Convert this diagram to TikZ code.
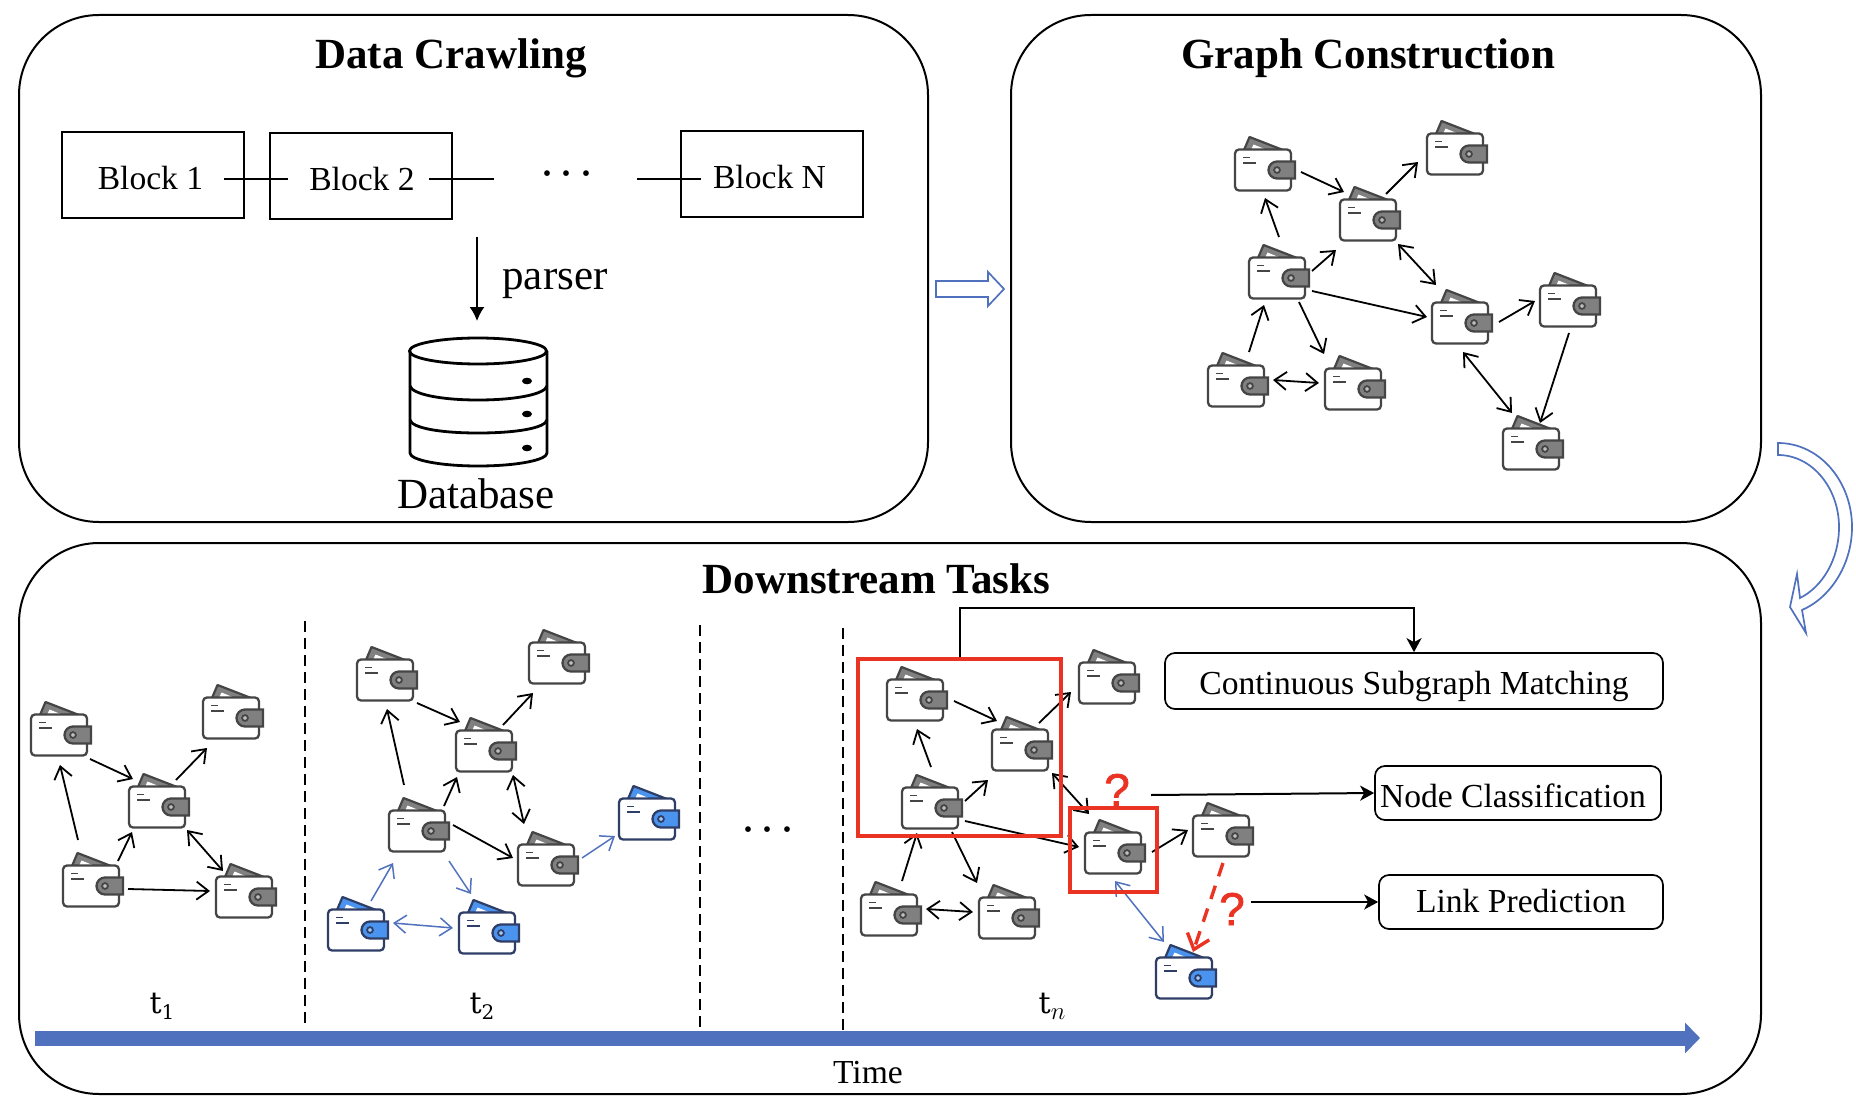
\documentclass[tikz,border=0pt]{standalone}
\usepackage{fontspec}
\setmainfont{Liberation Serif}
\newfontfamily\qfont[FakeBold=1.6]{Liberation Sans}
\newfontfamily\tfont{DejaVu Serif}
\usetikzlibrary{arrows.meta,calc}
\definecolor{panelblue}{HTML}{4F71BE}
\definecolor{redmark}{HTML}{EA3323}
\definecolor{graydark}{HTML}{454545}
\definecolor{graymid}{HTML}{808080}
\definecolor{bluedark}{HTML}{2F3E66}
\definecolor{bluemid}{HTML}{4A94F0}
\newcommand{\fs}[1]{\fontsize{#1}{#1}\selectfont}
\newcommand{\dotrow}{\textperiodcentered\hspace{3.5pt}\textperiodcentered\hspace{3.5pt}\textperiodcentered}
\tikzset{
  panel/.style={draw=black,line width=2pt,rounded corners=80pt,inner sep=0pt,fill=white},
  blockbox/.style={draw=black,line width=1.7pt,inner sep=0pt,minimum width=182pt,text height=58pt,text depth=28pt,anchor=base,font=\fs{33.6}},
  taskbox/.style={draw=black,line width=1.7pt,rounded corners=10pt,inner sep=0pt,anchor=base,font=\fs{33.6}},
  title/.style={anchor=base,font=\fs{43}\bfseries,inner sep=0pt},
  plain/.style={anchor=base,inner sep=0pt},
  walletnode/.style={inner sep=0pt,minimum width=58pt,minimum height=44pt},
  wedge/.style={draw=black,line width=1.8pt,-{Straight Barb[length=12pt,width=18pt]}},
  wboth/.style={draw=black,line width=1.8pt,{Straight Barb[length=12pt,width=18pt]}-{Straight Barb[length=12pt,width=18pt]}},
  bluewire/.style={draw=panelblue,line width=1.5pt},
  redbox/.style={draw=redmark,line width=3.4pt,inner sep=0pt},
  taskline/.style={draw=black,line width=2pt,-{Stealth[length=14pt,width=15pt,inset=4pt]}},
  chain/.style={draw=black,line width=2.2pt},
  timesep/.style={draw=black,line width=1.8pt,dash pattern=on 11pt off 6pt},
  hollow/.style={draw=panelblue,line width=1.7pt,fill=white,line join=miter},
}
\newcommand{\wallet}[5]{%
  \node[walletnode] (#1) at (#2,#3) {};
  \begin{scope}[shift={(#1.center)}]
    \filldraw[draw=#4,fill=#5,line width=2.2pt,line join=round] (-19,-20) -- (-13.5,-33) -- (20,-20) -- cycle;
    \fill[white] (-12,-20) -- (-9.5,-25.5) -- (4,-20) -- cycle;
    \filldraw[draw=#4,fill=white,line width=2.3pt,rounded corners=4pt] (-28,-20.5) rectangle (28,20.5);
    \filldraw[draw=#4,fill=#5,line width=2.3pt] (32,-8.5) -- (14,-8.5) arc[start angle=-90,end angle=-270,radius=8.5] -- (32,8.5) -- cycle;
    \filldraw[draw=#4,fill=#5!50!white,line width=1.8pt] (14,0) circle[radius=2.9];
    \draw[#4,line width=1.8pt] (-20,-12.5) -- (-13,-12.5) (-20,-7) -- (-7,-7);
  \end{scope}}
\newcommand{\gw}[3]{\wallet{#1}{#2}{#3}{graydark}{graymid}}
\newcommand{\bw}[3]{\wallet{#1}{#2}{#3}{bluedark}{bluemid}}
\newcommand{\conn}[5][wedge]{\draw[#1] ($(#2)+(#3)$) -- ($(#4)+(#5)$);}
\newcommand{\tlabel}[1]{{\tfont\fs{30}t}\raisebox{-6pt}{\tfont\fs{20}#1}}
\begin{document}
\begin{tikzpicture}[x=1pt,y=-1pt]
\useasboundingbox (0,0) rectangle (1856,1118);
\fill[white] (0,0) rectangle (1856,1118);

% panels
\node[panel,minimum width=909pt,minimum height=507pt] (crawl) at (473.5,268.5) {};
\node[panel,minimum width=750pt,minimum height=507pt] (graphp) at (1386,268.5) {};
\node[panel,minimum width=1742pt,minimum height=551pt] (tasks) at (890,818.5) {};
\node[title] (t1) at (451,69) {Data Crawling};
\node[title] (t2) at (1368,69) {Graph Construction};
\node[title] (t3) at (876.5,593) {Downstream Tasks};

% blocks
\node[blockbox] (b1) at (153,190) {\hspace*{-5pt}Block 1};
\node[blockbox] (b2) at (361,191) {\hspace*{2pt}Block 2};
\node[blockbox] (bn) at (772,189) {\hspace*{-5pt}Block N};
\coordinate (l1a) at (224,179); \coordinate (l1b) at (288,179);
\coordinate (l2a) at (429,179); \coordinate (l2b) at (494,179);
\coordinate (l3a) at (637,179); \coordinate (l3b) at (701,179);
\draw[chain] (l1a) -- (l1b);
\draw[chain] (l2a) -- (l2b);
\draw[chain] (l3a) -- (l3b);
\node[plain,font=\fs{48}] (dots1) at (567,190) {\dotrow};
\coordinate (pa) at (477,237); \coordinate (pb) at (477,321);
\draw[draw=black,line width=1.7pt,-{Latex[length=14pt,width=15pt]}] (pa) -- (pb);
\node[plain,font=\fs{43}] (parser) at (555,290) {parser};

% database
\begin{scope}[yshift=-1pt]
\filldraw[draw=black,fill=white,line width=2.8pt] (410,350) -- (410,452) .. controls (410,459) and (440,465) .. (478,465) .. controls (517,465) and (547,459) .. (547,452) -- (547,350);
\draw[black,line width=2.8pt] (478,350) ellipse[x radius=68.5,y radius=13];
\draw[black,line width=2.8pt] (410,385) .. controls (412,393) and (440,399) .. (478,399) .. controls (517,399) and (545,393) .. (547,385);
\draw[black,line width=2.8pt] (410,419) .. controls (412,427) and (440,432) .. (478,432) .. controls (517,432) and (545,427) .. (547,419);
\fill[black] (527,380) ellipse[x radius=5,y radius=3.3];
\fill[black] (527,413) ellipse[x radius=5,y radius=3.3];
\fill[black] (527,447) ellipse[x radius=5,y radius=3.3];
\end{scope}
\node[plain,font=\fs{43}] (dbname) at (476,508) {Database};

% hollow arrows
\draw[hollow] (936,281) -- (988,281) -- (988,272) -- (1004,289) -- (988,306) -- (988,297) -- (936,297) -- cycle;
\draw[hollow] (1778,443) .. controls (1820,443) and (1852,482) .. (1852,527) .. controls (1852,565) and (1830,598) .. (1802,610) -- (1806,633) -- (1790,607) -- (1797,574) -- (1800,598) .. controls (1822,587) and (1839,560) .. (1839,527) .. controls (1839,488) and (1812,455) .. (1778,455) -- cycle;

% top graph
\gw{wa}{1263}{170} \gw{wb}{1455}{154} \gw{wc}{1368}{220} \gw{wd}{1277}{278}
\gw{we}{1460}{323} \gw{wf}{1568}{306} \gw{wg}{1236}{386} \gw{wh}{1353}{389} \gw{wi}{1531}{449}
\conn{wa}{38,2}{wc}{-24,-28}
\conn{wc}{18,-26}{wb}{-37,8}
\conn{wd}{2,-41}{wa}{2,28}
\conn{wd}{35,-7}{wc}{-32,30}
\conn[wboth]{wc}{30,24}{we}{-24,-38}
\conn{wd}{35,13}{we}{-33,-6}
\conn{we}{39,-1}{wf}{-33,-5}
\conn{wg}{13,-34}{wd}{-13,27}
\conn{wd}{22,24}{wh}{-29,-35}
\conn[wboth]{wg}{37,-6}{wh}{-34,-6}
\conn{wf}{1,27}{wi}{9,-26}
\conn[wboth]{we}{3,29}{wi}{-19,-36}

% t1
\gw{aa}{59}{735} \gw{ab}{231}{718} \gw{ac}{157}{807} \gw{ad}{91}{886} \gw{ae}{244}{897}
\conn{aa}{31,24}{ac}{-24,-28}
\conn{ac}{19,-27}{ab}{-24,30}
\conn{ad}{-13,-46}{aa}{1,30}
\conn{ad}{27,-25}{ac}{-25,25}
\conn[wboth]{ac}{30,23}{ae}{-21,-26}
\conn{ad}{37,3}{ae}{-34,-6}

% t2
\gw{ba}{385}{680} \gw{bb}{557}{663} \gw{bc}{484}{751} \gw{bd}{417}{831} \gw{be}{546}{865}
\bw{bf}{647}{819} \bw{bg}{356}{930} \bw{bh}{487}{933}
\conn{ba}{32,23}{bc}{-24,-29}
\conn{bc}{19,-26}{bb}{-24,30}
\conn{bd}{-13,-46}{ba}{2,29}
\conn{bd}{27,-25}{bc}{-27,26}
\conn[wboth]{bc}{29,24}{be}{-22,-41}
\conn{bd}{36,-6}{be}{-33,-7}
\conn[wedge,bluewire]{be}{36,-7}{bf}{-32,17}
\conn[wedge,bluewire]{bg}{15,-29}{bd}{-24,32}
\conn[wedge,bluewire]{bd}{32,30}{bh}{-16,-39}
\conn[wboth,bluewire]{bg}{37,-7}{bh}{-34,-5}

% tn
\gw{ca}{915}{700} \gw{cb}{1107}{683} \gw{cc}{1020}{750} \gw{cd}{930}{808} \gw{ce}{1113}{853}
\gw{cf}{1221}{836} \gw{cg}{889}{915} \gw{ch}{1007}{918} \bw{ci}{1184}{978}
\conn{ca}{39,1}{cc}{-23,-29}
\conn{cc}{19,-27}{cb}{-36,9}
\conn{cd}{1,-41}{ca}{2,29}
\conn{cd}{35,-7}{cc}{-32,30}
\conn[wboth]{cc}{32,23}{ce}{-24,-39}
\conn{cd}{35,13}{ce}{-34,-6}
\conn{ce}{39,-1}{cf}{-33,-6}
\conn{cg}{13,-34}{cd}{-13,25}
\conn{cd}{22,24}{ch}{-30,-35}
\conn[wboth]{cg}{37,-6}{ch}{-34,-6}
\conn[wboth,bluewire]{ce}{2,28}{ci}{-20,-36}

% red marks
\node[redbox,minimum width=203pt,minimum height=177pt] (rb1) at (959.5,747.5) {};
\node[redbox,minimum width=87pt,minimum height=84pt] (rb2) at (1113.5,850) {};
\conn[draw=redmark,line width=3.4pt,dash pattern=on 14pt off 10pt,-{Straight Barb[length=14pt,width=23pt]}]{cf}{2,27}{ci}{9,-26}
\node[plain,text=redmark,font=\qfont\fs{46}] (q1) at (1117,806) {?};
\node[plain,text=redmark,font=\qfont\fs{46}] (q2) at (1232,925) {?};

% tasks
\node[taskbox,minimum width=498pt,text height=41pt,text depth=15pt] (csm) at (1414,694) {Continuous Subgraph Matching};
\node[taskbox,minimum width=286pt,text height=41pt,text depth=13pt] (nc) at (1518,807) {\hspace*{-10pt}Node Classification};
\node[taskbox,minimum width=284pt,text height=37pt,text depth=17pt] (lp) at (1521,912) {Link Prediction};
\draw[taskline] (rb1.north) -- ++(0,-49) -| (csm.north);
\coordinate (ncs) at (1151,795);
\draw[taskline] (ncs) -- (nc.west);
\coordinate (lps) at (1251,902);
\draw[taskline] (lps) -- (lps -| lp.west);

% separators
\coordinate (s1a) at (305,621); \coordinate (s1b) at (305,1028);
\coordinate (s2a) at (700,625); \coordinate (s2b) at (700,1030);
\coordinate (s3a) at (843,628); \coordinate (s3b) at (843,1033);
\draw[timesep] (s1a) -- (s1b);
\draw[timesep] (s2a) -- (s2b);
\draw[timesep] (s3a) -- (s3b);
\node[plain,font=\fs{48}] (dots2) at (768,845) {\dotrow};
\node[plain] (lt1) at (162,1013) {\tlabel{1}};
\node[plain] (lt2) at (482,1013) {\tlabel{2}};
\node[plain] (ltn) at (1052,1013) {{\tfont\fs{30}t}\raisebox{-6pt}{\fs{28}$n$}};

% time axis
\coordinate (ta) at (35,1038); \coordinate (tb) at (1700,1038);
\draw[panelblue,line width=15pt,-{Triangle[length=15pt,width=30pt]}] (ta) -- (tb);
\node[plain,font=\fs{33.6}] (tm) at (868,1083) {Time};
\end{tikzpicture}
\end{document}
